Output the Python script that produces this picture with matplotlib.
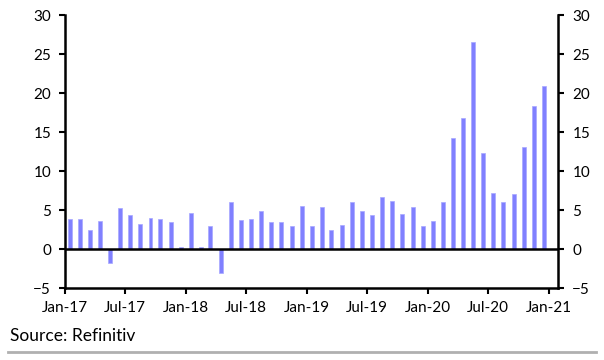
import matplotlib
matplotlib.use("Agg")
import matplotlib.pyplot as plt
import matplotlib.dates as mdates
import pandas as pd
import numpy as np

plt.rcParams['font.family'] = ['Lato', 'DejaVu Sans']

months = pd.date_range("2017-01-01", "2020-12-01", freq="MS")
values = [
    3.9, 3.85, 2.5, 3.6, -1.75, 5.2, 4.3, 3.25, 4.0, 3.9, 3.4, 0.3,
    4.65, 0.2, 2.95, -3.1, 6.0, 3.7, 3.8, 4.9, 3.4, 3.5, 2.9, 5.55,
    2.95, 5.4, 2.5, 3.05, 6.0, 4.9, 4.35, 6.65, 6.2, 4.5, 5.4, 2.9,
    3.65, 6.0, 14.2, 16.8, 26.5, 12.3, 7.2, 6.05, 7.0, 13.1, 18.3, 20.9,
]
tick_dates = pd.date_range("2017-01-01", "2021-01-01", freq="6MS")
yticks = [-5, 0, 5, 10, 15, 20, 25, 30]

fig = plt.figure(figsize=(6.04, 3.6), dpi=100)
ax = fig.add_axes([0.1076, 0.2, 0.817, 0.7583])

# bars centred mid-month
centers = months + pd.Timedelta(days=15)
ax.bar(centers, values, width=12, color='#8080ff', edgecolor='#a8a8ff', linewidth=0.5, zorder=2)
ax.axhline(0, color='black', linewidth=1.8, zorder=3)

ax.set_xlim(pd.Timestamp("2017-01-01"), pd.Timestamp("2021-01-29"))
ax.set_ylim(-5, 30)
ax.set_xticks(tick_dates)
ax.xaxis.set_major_formatter(mdates.DateFormatter('%b-%y'))
ax.set_yticks(yticks)

ax.spines['top'].set_visible(False)
for s in ['left', 'right', 'bottom']:
    ax.spines[s].set_linewidth(1.8)
    ax.spines[s].set_color('black')

ax.tick_params(axis='y', which='both', left=True, right=True, labelleft=True, labelright=True,
               direction='out', length=4, width=1.5, labelsize=11, pad=6)
ax.tick_params(axis='x', direction='out', length=4, width=1.5, labelsize=11, pad=5)

fig.text(0.016, 0.068, 'Source: Refinitiv', fontsize=12.5, ha='left', va='center')
fig.add_artist(plt.Line2D([0.013, 0.987], [0.022, 0.022], color='#b0b0b0', linewidth=2))

fig.savefig('out.png', dpi=100)
